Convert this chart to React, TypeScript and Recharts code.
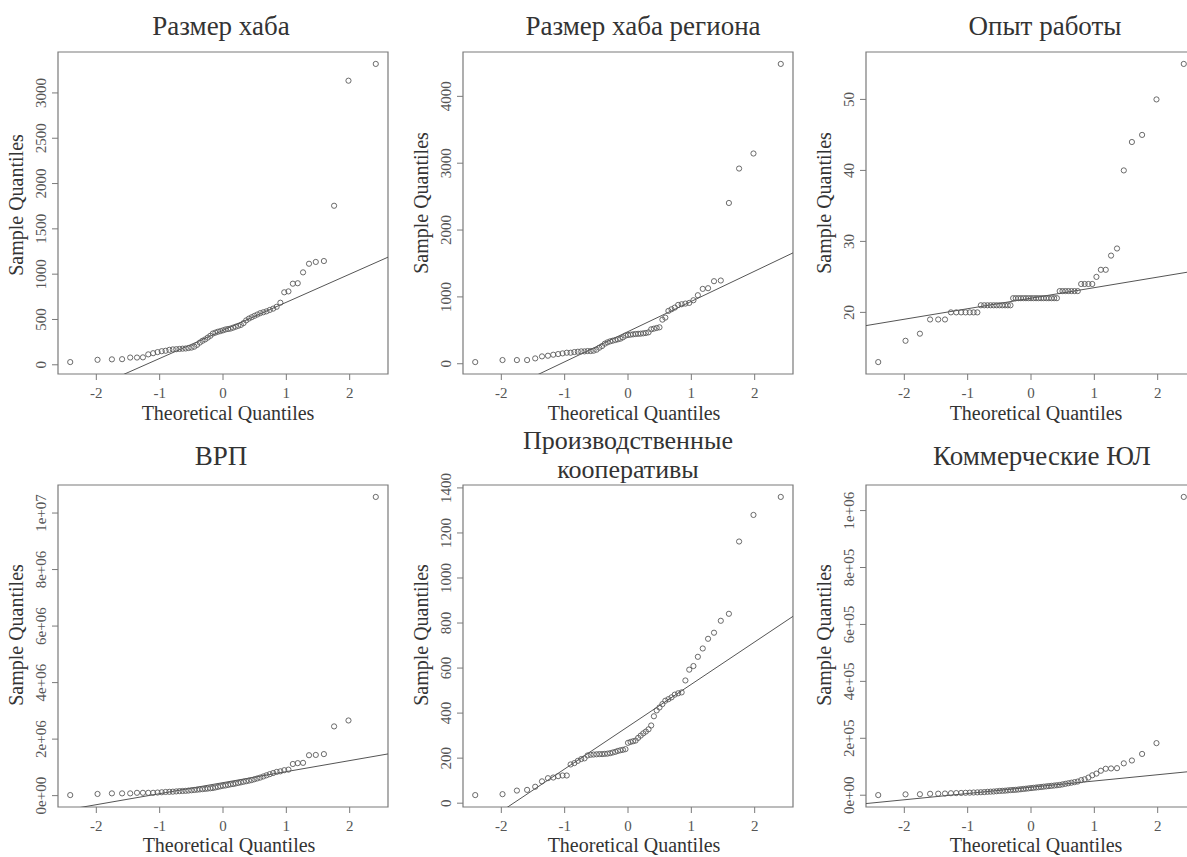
import React from 'react';
import { ScatterChart, Scatter, XAxis, YAxis, ReferenceArea, ReferenceLine } from 'recharts';

// Theoretical normal quantiles (n = 63)
const THEORETICAL = [-2.412,-1.981,-1.754,-1.593,-1.465,-1.358,-1.264,-1.180,-1.103,-1.033,-0.967,-0.906,-0.847,-0.792,-0.738,-0.687,-0.638,-0.589,-0.543,-0.497,-0.453,-0.409,-0.366,-0.324,-0.282,-0.241,-0.200,-0.160,-0.120,-0.080,-0.040,0,0.040,0.080,0.120,0.160,0.200,0.241,0.282,0.324,0.366,0.409,0.453,0.497,0.543,0.589,0.638,0.687,0.738,0.792,0.847,0.906,0.967,1.033,1.103,1.180,1.264,1.358,1.465,1.593,1.754,1.981,2.412];
const X_TICKS = [-2, -1, 0, 1, 2];

const HUB_SIZE = [30,55,60,62,80,80,82,115,128,140,150,155,165,170,172,175,178,180,185,190,200,220,245,265,280,300,320,345,355,365,372,380,390,395,400,410,420,430,440,460,490,510,525,540,555,570,580,590,605,620,640,685,800,810,895,900,1020,1115,1135,1145,1755,3135,3320];
const HUB_TICKS = [0, 500, 1000, 1500, 2000, 2500, 3000];
const HUB_TICK_LABELS = ['0', '500', '1000', '1500', '2000', '2500', '3000'];
const HUB_LINE = { intercept: 380, slope: 310 };

const REGION_HUB = [25,55,55,55,80,110,120,135,145,155,165,165,175,180,185,185,190,190,195,210,240,265,300,320,335,345,355,365,375,395,420,430,435,440,445,448,450,455,460,470,515,525,535,545,660,690,790,815,840,880,890,900,910,950,1025,1120,1130,1235,1245,2405,2920,3145,4485];
const REGION_TICKS = [0, 1000, 2000, 3000, 4000];
const REGION_TICK_LABELS = ['0', '1000', '2000', '3000', '4000'];
const REGION_LINE = { intercept: 481, slope: 452 };

const EXPERIENCE = [13,16,17,19,19,19,20,20,20,20,20,20,20,21,21,21,21,21,21,21,21,21,21,21,22,22,22,22,22,22,22,22,22,22,22,22,22,22,22,22,22,22,23,23,23,23,23,23,23,24,24,24,24,25,26,26,28,29,40,44,45,50,55];
const EXPERIENCE_TICKS = [20, 30, 40, 50];
const EXPERIENCE_TICK_LABELS = ['20', '30', '40', '50'];
const EXPERIENCE_LINE = { intercept: 22, slope: 1.483 };

const GRP = [20000,60000,80000,80000,80000,100000,100000,100000,100000,110000,120000,130000,135000,140000,150000,160000,165000,170000,180000,190000,200000,210000,220000,230000,240000,250000,260000,270000,290000,310000,330000,350000,360000,380000,400000,410000,430000,450000,470000,490000,510000,530000,550000,580000,610000,640000,680000,720000,760000,800000,840000,860000,900000,920000,1120000,1150000,1160000,1430000,1440000,1470000,2450000,2660000,10570000];
const GRP_TICKS = [0, 2000000, 4000000, 6000000, 8000000, 10000000];
const GRP_TICK_LABELS = ['0e+00', '2e+06', '4e+06', '6e+06', '8e+06', '1e+07'];
const GRP_LINE = { intercept: 460000, slope: 390000 };

const COOPS = [36,40,56,59,73,97,111,114,120,123,123,172,178,188,196,199,212,215,216,217,218,218,219,220,222,225,228,232,235,237,240,268,272,275,278,290,300,310,318,328,345,386,412,425,440,455,462,470,482,488,492,545,593,609,650,687,730,757,810,841,1162,1280,1360];
const COOPS_TICKS = [0, 200, 400, 600, 800, 1000, 1200, 1400];
const COOPS_TICK_LABELS = ['0', '200', '400', '600', '800', '1000', '1200', '1400'];
const COOPS_LINE = { intercept: 340, slope: 188 };

const COMMERCIAL = [500,3000,3500,5000,5500,6000,7000,7500,8000,8500,9000,9500,10000,10500,11000,12000,12500,13000,14000,15000,15500,16000,17000,18000,18500,19000,20000,21000,22000,23000,24000,25000,26000,27000,28000,29000,30000,31000,32000,33000,34000,35000,36000,38000,40000,42000,44000,46000,48000,53000,56000,62000,70000,76000,86000,93000,94000,95000,112000,122000,145000,183000,1048000];
const COMMERCIAL_TICKS = [0, 200000, 400000, 600000, 800000, 1000000];
const COMMERCIAL_TICK_LABELS = ['0e+00', '2e+05', '4e+05', '6e+05', '8e+05', '1e+06'];
const COMMERCIAL_LINE = { intercept: 28000, slope: 22000 };

const FONT = "'Liberation Serif', 'DejaVu Serif', 'Times New Roman', serif";
const BOX = '#7a7a7a';
const INK = '#333';
const TICK_INK = '#555';
const PT = '#5a5a5a';

const PLOT_W = 330;
const PLOT_H = 322;
const Y_AXIS_W = 58;
const X_AXIS_H = 53;
const M_TOP = 30;
const M_RIGHT = 5;

type Panel = {
  title: string[];
  titleSize: number;
  values: number[];
  ticks: number[];
  tickLabels: string[];
  line: { intercept: number; slope: number };
  left: number;
  top: number;
  titleX: number;
  titleY: number[];
  xLabelX: number;
  xLabelY: number;
  yLabelY: number;
};

const PANELS: Panel[] = [
  { title: ['Размер хаба'], titleSize: 27, values: HUB_SIZE, ticks: HUB_TICKS, tickLabels: HUB_TICK_LABELS, line: HUB_LINE, left: 58, top: 52, titleX: 221, titleY: [35], xLabelX: 228, xLabelY: 420, yLabelY: 205 },
  { title: ['Размер хаба региона'], titleSize: 27, values: REGION_HUB, ticks: REGION_TICKS, tickLabels: REGION_TICK_LABELS, line: REGION_LINE, left: 463, top: 52, titleX: 643, titleY: [35], xLabelX: 634, xLabelY: 420, yLabelY: 203 },
  { title: ['Опыт работы'], titleSize: 27, values: EXPERIENCE, ticks: EXPERIENCE_TICKS, tickLabels: EXPERIENCE_TICK_LABELS, line: EXPERIENCE_LINE, left: 866, top: 52, titleX: 1045, titleY: [35], xLabelX: 1036, xLabelY: 420, yLabelY: 203 },
  { title: ['ВРП'], titleSize: 27, values: GRP, ticks: GRP_TICKS, tickLabels: GRP_TICK_LABELS, line: GRP_LINE, left: 58, top: 485, titleX: 221, titleY: [465], xLabelX: 229, xLabelY: 852, yLabelY: 635 },
  { title: ['Производственные', 'кооперативы'], titleSize: 26, values: COOPS, ticks: COOPS_TICKS, tickLabels: COOPS_TICK_LABELS, line: COOPS_LINE, left: 463, top: 485, titleX: 628, titleY: [449, 478], xLabelX: 634, xLabelY: 852, yLabelY: 635 },
  { title: ['Коммерческие ЮЛ'], titleSize: 27, values: COMMERCIAL, ticks: COMMERCIAL_TICKS, tickLabels: COMMERCIAL_TICK_LABELS, line: COMMERCIAL_LINE, left: 866, top: 485, titleX: 1042, titleY: [465], xLabelX: 1036, xLabelY: 852, yLabelY: 635 },
];

const extend = (lo: number, hi: number): [number, number] => {
  const r = hi - lo;
  return [lo - 0.04 * r, hi + 0.04 * r];
};

const X_DOMAIN = extend(THEORETICAL[0], THEORETICAL[THEORETICAL.length - 1]);

const Point = (props: any) => {
  const { cx, cy } = props;
  if (cx == null || cy == null) return null;
  return <circle cx={cx} cy={cy} r={2.6} fill="none" stroke={PT} strokeWidth={0.9} />;
};

const QQPanel = ({ p }: { p: Panel }) => {
  const data = THEORETICAL.map((x, i) => ({ x, y: p.values[i] }));
  const yDomain = extend(Math.min(...p.values), Math.max(...p.values));
  const labelMap: Record<string, string> = {};
  p.ticks.forEach((t, i) => { labelMap[String(t)] = p.tickLabels[i]; });
  const YTick = (tp: any) => {
    const { x, y, payload } = tp;
    const tx = x - 5.5;
    return (
      <text x={tx} y={y} transform={`rotate(-90, ${tx}, ${y})`} textAnchor="middle" fontSize={15} fill={TICK_INK} fontFamily={FONT}>
        {labelMap[String(payload.value)] ?? String(payload.value)}
      </text>
    );
  };
  const x0 = -3.2;
  const x1 = 3.2;
  return (
    <div style={{ position: 'absolute', left: p.left - Y_AXIS_W, top: p.top - M_TOP }}>
      <ScatterChart
        width={Y_AXIS_W + PLOT_W + M_RIGHT}
        height={M_TOP + PLOT_H + X_AXIS_H}
        margin={{ top: M_TOP, right: M_RIGHT, bottom: 0, left: 0 }}
      >
        <XAxis
          type="number"
          dataKey="x"
          domain={X_DOMAIN}
          allowDataOverflow
          ticks={X_TICKS}
          interval={0}
          height={X_AXIS_H}
          axisLine={false}
          tickLine={{ stroke: BOX }}
          tickSize={6}
          tickMargin={7}
          tick={{ fontSize: 15, fill: TICK_INK, fontFamily: FONT }}
        />
        <YAxis
          type="number"
          dataKey="y"
          domain={yDomain}
          allowDataOverflow
          ticks={p.ticks}
          interval={0}
          width={Y_AXIS_W}
          axisLine={false}
          tickLine={{ stroke: BOX }}
          tickSize={6}
          tickMargin={0}
          tick={YTick}
        />
        <ReferenceArea x1={X_DOMAIN[0]} x2={X_DOMAIN[1]} y1={yDomain[0]} y2={yDomain[1]} fill="none" fillOpacity={0} stroke={BOX} strokeWidth={1.2} ifOverflow="visible" />
        <ReferenceLine
          segment={[
            { x: x0, y: p.line.intercept + p.line.slope * x0 },
            { x: x1, y: p.line.intercept + p.line.slope * x1 },
          ]}
          ifOverflow="hidden"
          stroke="#555"
          strokeWidth={1}
        />
        <Scatter data={data} shape={Point} isAnimationActive={false} />
      </ScatterChart>
    </div>
  );
};

export default function App() {
  return (
    <div style={{ position: 'fixed', left: 0, top: 0, width: 1187, height: 857, overflow: 'hidden', background: '#fff' }}>
      {PANELS.map((p, i) => (
        <QQPanel key={i} p={p} />
      ))}
      <svg width={1187} height={857} style={{ position: 'absolute', left: 0, top: 0, pointerEvents: 'none' }}>
        {PANELS.map((p, i) => (
          <g key={i} fontFamily={FONT}>
            <text textAnchor="middle" fontSize={p.titleSize} fill={INK}>
              {p.title.map((t, j) => (
                <tspan key={j} x={p.titleX} y={p.titleY[j]}>{t}</tspan>
              ))}
            </text>
            <text x={p.xLabelX} y={p.xLabelY} textAnchor="middle" fontSize={20} fill={INK}>Theoretical Quantiles</text>
            <text x={p.left - 35} y={p.yLabelY} transform={`rotate(-90, ${p.left - 35}, ${p.yLabelY})`} textAnchor="middle" fontSize={20} fill={INK}>Sample Quantiles</text>
          </g>
        ))}
      </svg>
    </div>
  );
}
